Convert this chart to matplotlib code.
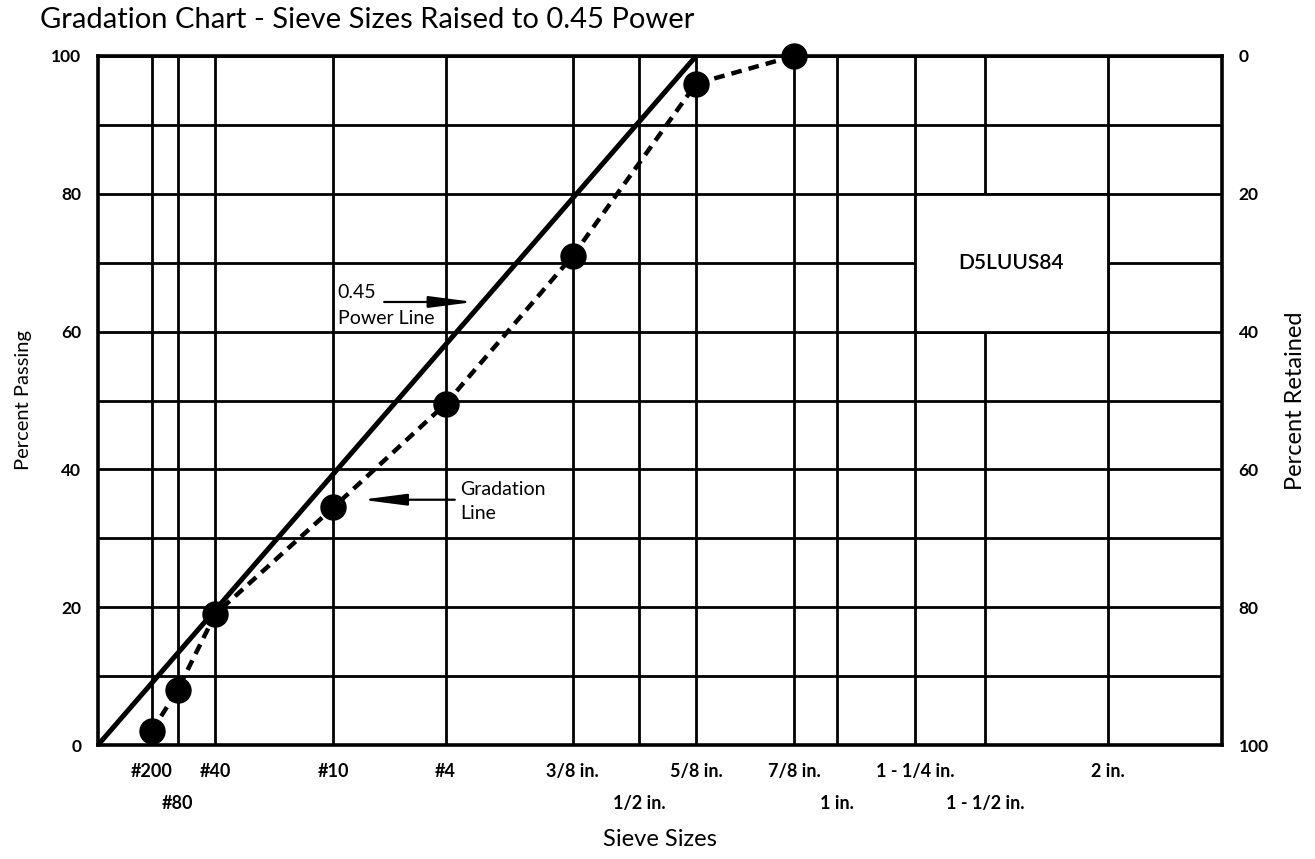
import matplotlib
matplotlib.use("Agg")
import matplotlib.pyplot as plt
from matplotlib.patches import Rectangle
from matplotlib.ticker import FixedLocator

plt.rcParams['font.family'] = ['Lato', 'DejaVu Sans']

# Sieve openings (mm) and their labels; first row / second row under the axis
row1_sizes = [0.075, 0.425, 2.0, 4.75, 9.5, 15.875, 22.225, 31.75, 50.8]
row1_labels = ['#200', '#40', '#10', '#4', '3/8 in.', '5/8 in.', '7/8 in.',
               '1 - 1/4 in.', '2 in.']
row2_sizes = [0.18, 12.7, 25.4, 38.1]
row2_labels = ['#80', '1/2 in.', '1 in.', '1 - 1/2 in.']

# Gradation test results
grad_sizes = [0.075, 0.18, 0.425, 2.0, 4.75, 9.5, 15.875, 22.225]
grad_passing = [2, 8, 19, 34.5, 49.5, 71, 96, 100]

# Maximum density (0.45 power) line
power_sizes = [0.0, 15.875]
power_passing = [0, 100]

EXP = 0.45


def p(s):
    return s ** EXP


fig = plt.figure(figsize=(13.15, 8.59), dpi=100)
ax = fig.add_axes([98 / 1315, 1 - 745 / 859, (1222 - 98) / 1315, (745 - 56) / 859])

ax.set_xlim(0, 6.52)
ax.set_ylim(0, 100)

# Ticks: first-row sieves as major, second-row sieves as minor with a deeper pad
ax.xaxis.set_major_locator(FixedLocator([p(s) for s in row1_sizes]))
ax.set_xticklabels(row1_labels)
ax.xaxis.set_minor_locator(FixedLocator([p(s) for s in row2_sizes]))
ax.set_xticklabels(row2_labels, minor=True)
ax.tick_params(axis='x', which='major', length=0, pad=13, labelsize=13)
ax.tick_params(axis='x', which='minor', length=0, pad=36, labelsize=13)

ax.set_yticks([0, 20, 40, 60, 80, 100])
ax.yaxis.set_minor_locator(FixedLocator([10, 30, 50, 70, 90]))
ax.tick_params(axis='y', which='both', length=0, pad=12, labelsize=12.5)
for lab in ax.get_xticklabels(which='both') + ax.get_yticklabels():
    lab.set_fontweight('bold')

ax.set_axisbelow(True)
ax.grid(True, which='both', color='black', linewidth=2.0)
for sp in ax.spines.values():
    sp.set_linewidth(2.6)

# Label block that blanks out part of the grid
x0, x1 = p(31.75), p(50.8)
ax.add_patch(Rectangle((x0, 60), x1 - x0, 20, facecolor='white',
                       edgecolor='black', linewidth=2.0, zorder=1))
ax.text((x0 + x1) / 2, 70, 'D5LUUS84', ha='center', va='center',
        fontsize=15, fontweight='semibold', zorder=3)

# Curves
ax.plot([p(s) for s in power_sizes], power_passing, color='black',
        linewidth=3.6, solid_capstyle='butt', zorder=3, clip_on=False)
ax.plot([p(s) for s in grad_sizes], grad_passing, color='black',
        linewidth=3.2, dashes=(2.4, 1.6), marker='o', markersize=18,
        zorder=4, clip_on=False)

# Callouts
ax.text(1.39, 64.9, '0.45', ha='left', va='baseline', fontsize=14, zorder=3)
ax.text(1.39, 63.2, 'Power Line', ha='left', va='top', fontsize=14, zorder=3)
ax.annotate('', xy=(2.18, 64.3), xytext=(1.66, 64.3),
            arrowprops=dict(arrowstyle='-|>,head_length=2.7,head_width=0.35',
                            color='black', lw=1.6, mutation_scale=10,
                            shrinkA=0, shrinkB=0), zorder=3)
ax.text(2.10, 36.3, 'Gradation', ha='left', va='baseline', fontsize=14, zorder=3)
ax.text(2.10, 34.9, 'Line', ha='left', va='top', fontsize=14, zorder=3)
ax.annotate('', xy=(1.53, 35.6), xytext=(2.07, 35.6),
            arrowprops=dict(arrowstyle='-|>,head_length=2.7,head_width=0.35',
                            color='black', lw=1.6, mutation_scale=10,
                            shrinkA=0, shrinkB=0), zorder=3)

# Right-hand axis: percent retained
sec = ax.secondary_yaxis('right', functions=(lambda y: 100 - y, lambda r: 100 - r))
sec.set_yticks([0, 20, 40, 60, 80, 100])
sec.tick_params(length=0, pad=12, labelsize=12.5)
for lab in sec.get_yticklabels():
    lab.set_fontweight('bold')
sec.spines['right'].set_visible(False)
sec.set_ylabel('Percent Retained', fontsize=17, labelpad=12)

ax.set_ylabel('Percent Passing', fontsize=14.5, labelpad=14)
ax.set_xlabel('Sieve Sizes', fontsize=17, labelpad=12)

fig.text(40 / 1315, 1 - 20 / 859, 'Gradation Chart - Sieve Sizes Raised to 0.45 Power',
         ha='left', va='center', fontsize=21)

fig.savefig('out.png', dpi=100)
